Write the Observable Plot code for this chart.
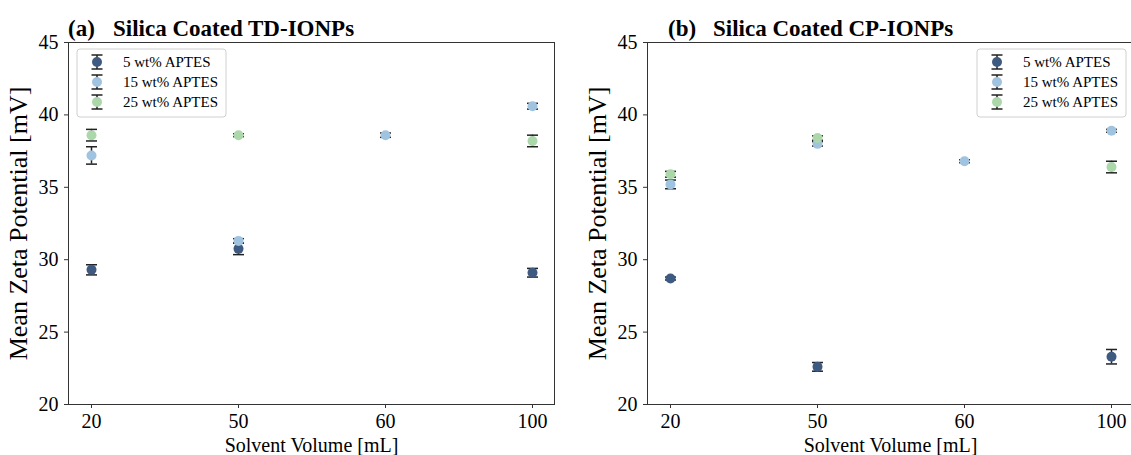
<!DOCTYPE html>
<html>
<head>
<meta charset="utf-8">
<script src="https://cdn.jsdelivr.net/npm/d3@7"></script>
<script src="https://cdn.jsdelivr.net/npm/@observablehq/plot@0.6"></script>
<style>
  html, body { margin: 0; padding: 0; background: #fff; overflow: hidden; }
  #chart { position: relative; width: 1131px; height: 455px; overflow: hidden;
           font-family: "Liberation Serif", "Times New Roman", serif; }
  #chart > svg, #chart > figure { position: absolute; top: 0; margin: 0; }
  #overlay { left: 0; pointer-events: none; }
  .ylab g[aria-label="y-axis label"] text, .ylab [aria-label="y-axis label"] { font-size: 26px; }
</style>
</head>
<body>
<div id="chart"></div>
<script>
// Solvent volumes (categorical x axis) and APTES loadings
const volumes = ["20", "50", "60", "100"];
const seriesNames = ["5 wt% APTES", "15 wt% APTES", "25 wt% APTES"];
const seriesColors = ["#3f5a81", "#a0c3e0", "#abd7ab"];
const yTicks = [20, 25, 30, 35, 40, 45];

// (a) Silica coated TD-IONPs: mean zeta potential [mV] and std. dev. per volume (null = not measured)
const tdMean5  = [29.3, 30.75, null, 29.1];
const tdErr5   = [0.35, 0.4, null, 0.3];
const tdMean15 = [37.2, 31.3, 38.6, 40.6];
const tdErr15  = [0.6, 0.15, 0.15, 0.2];
const tdMean25 = [38.6, 38.6, null, 38.2];
const tdErr25  = [0.4, 0.1, null, 0.4];

// (b) Silica coated CP-IONPs
const cpMean5  = [28.7, 22.6, null, 23.3];
const cpErr5   = [0.1, 0.3, null, 0.5];
const cpMean15 = [35.2, 38.0, 36.8, 38.9];
const cpErr15  = [0.3, 0.15, 0.1, 0.1];
const cpMean25 = [35.9, 38.4, null, 36.4];
const cpErr25  = [0.2, 0.15, null, 0.4];

const FONT = '"Liberation Serif", "Times New Roman", serif';
const W = 1131, H = 455;

// Horizontal cap symbol for the error bars; its half-width follows the dot radius
const capSymbol = {
  draw(context, size) {
    const h = Math.sqrt(size / Math.PI);
    context.moveTo(-h, 0);
    context.lineTo(h, 0);
  }
};

function rows(means, errs) {
  return volumes.map((v, i) => ({volume: v, mean: means[i], err: errs[i]}))
    .filter(d => d.mean != null);
}

function seriesMarks(data, color) {
  const cap = {x: "volume", symbol: capSymbol, r: 5.5, stroke: "#222", strokeWidth: 1.5, fill: "none"};
  return [
    Plot.ruleX(data, {x: "volume", y1: d => d.mean - d.err, y2: d => d.mean + d.err,
                      stroke: "#222", strokeWidth: 1.5}),
    Plot.dot(data, {...cap, y: d => d.mean - d.err}),
    Plot.dot(data, {...cap, y: d => d.mean + d.err}),
    Plot.dot(data, {x: "volume", y: "mean", r: 5, fill: color, stroke: "none"})
  ];
}

function panel(groups, {width, marginLeft, marginRight}) {
  return Plot.plot({
    width, height: H,
    marginTop: 42, marginBottom: 51, marginLeft, marginRight,
    style: {fontFamily: FONT, fontSize: "20px", color: "#000", background: "transparent", overflow: "visible"},
    x: {type: "point", domain: volumes, padding: 0.15, align: 0.5},
    y: {domain: [20, 45]},
    marks: [
      Plot.frame({stroke: "#333", strokeWidth: 1}),
      Plot.axisX({ticks: volumes, tickSize: 4, tickPadding: 5, stroke: "#333",
                  label: "Solvent Volume [mL]", labelAnchor: "center", labelOffset: 47, labelArrow: "none"}),
      Plot.axisY({ticks: yTicks, tickSize: 4, tickPadding: 6, stroke: "#333", label: null}),
      Plot.axisY({ticks: [], tickSize: 0, label: "Mean Zeta Potential [mV]", labelAnchor: "center",
                  labelOffset: 60, labelArrow: "none", fontSize: 26}),
      ...groups.flatMap((g, i) => seriesMarks(g, seriesColors[i]))
    ]
  });
}

const chart = document.getElementById("chart");

const plotA = panel([rows(tdMean5, tdErr5), rows(tdMean15, tdErr15), rows(tdMean25, tdErr25)],
                    {width: 580, marginLeft: 68, marginRight: 26});
plotA.style.left = "0px";
chart.appendChild(plotA);

const plotB = panel([rows(cpMean5, cpErr5), rows(cpMean15, cpErr15), rows(cpMean25, cpErr25)],
                    {width: 555, marginLeft: 67, marginRight: 2});
plotB.style.left = "580px";
chart.appendChild(plotB);

// Panel titles and legends
const overlay = d3.select(chart).append("svg")
  .attr("id", "overlay").attr("width", W).attr("height", H)
  .style("font-family", FONT);

function title(x, tag, text) {
  const g = overlay.append("g").attr("font-weight", "bold").attr("font-size", 23).attr("fill", "#000");
  g.append("text").attr("x", x).attr("y", 36).text(tag);
  g.append("text").attr("x", x + 45).attr("y", 36).text(text);
}
title(68, "(a)", "Silica Coated TD-IONPs");
title(668, "(b)", "Silica Coated CP-IONPs");

function legend(x, y) {
  const g = overlay.append("g").attr("transform", `translate(${x},${y})`);
  g.append("rect").attr("width", 149).attr("height", 68).attr("rx", 3)
    .attr("fill", "#fff").attr("fill-opacity", 0.8).attr("stroke", "#d0d0d0");
  seriesNames.forEach((name, i) => {
    const cy = 13 + i * 20;
    const s = g.append("g").attr("transform", `translate(20,${cy})`).attr("stroke", "#222").attr("stroke-width", 1.5);
    s.append("line").attr("y1", -7).attr("y2", 7);
    s.append("line").attr("x1", -5.5).attr("x2", 5.5).attr("y1", -7).attr("y2", -7);
    s.append("line").attr("x1", -5.5).attr("x2", 5.5).attr("y1", 7).attr("y2", 7);
    s.append("circle").attr("r", 5).attr("fill", seriesColors[i]).attr("stroke", "none");
    g.append("text").attr("x", 46).attr("y", cy + 5).attr("font-size", 15).attr("fill", "#000").text(name);
  });
}
legend(77, 49);
legend(977, 49);
</script>
</body>
</html>
